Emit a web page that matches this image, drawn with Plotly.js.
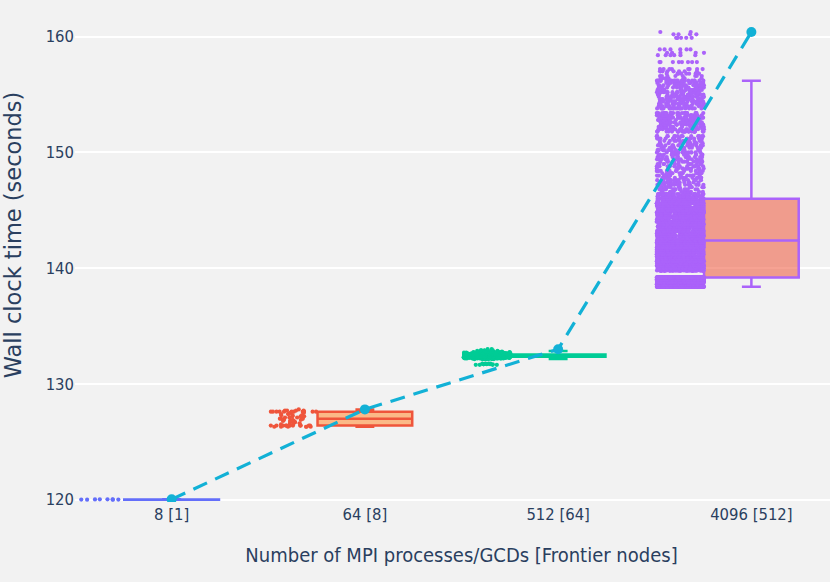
<!DOCTYPE html>
<html>
<head>
<meta charset="utf-8">
<script src="https://cdn.plot.ly/plotly-3.0.1.min.js"></script>
<style>
  body { margin: 0; background: #f2f2f2; overflow: hidden; }
  #chart { margin-top: -32px; }
</style>
</head>
<body>
<div id="chart"></div>
<script>
// categories: MPI processes [Frontier nodes]
var categories = ["8 [1]", "64 [8]", "512 [64]", "4096 [512]"];

// 8 ranks: individual wall clock times
var times8 = [120.02, 120.01, 120.03, 120.0, 120.02, 120.01, 120.0, 120.03];

// 64, 512 and 4096 ranks: distinct times and how many ranks got each
var values64 = [126.3, 126.4, 126.5, 126.6, 126.7, 126.8, 126.9, 127.0, 127.1, 127.2, 127.3, 127.4, 127.5, 127.6, 127.7, 127.8];
var counts64 = [6, 11, 2, 2, 2, 3, 3, 4, 3, 3, 3, 3, 2, 12, 4, 1];

var values512 = [131.65, 131.7, 131.75, 132.15, 132.2, 132.25, 132.3, 132.35, 132.4, 132.45, 132.5, 132.55, 132.6, 132.65, 132.7, 132.75, 132.8, 132.85, 132.9, 133.0];
var counts512 = [4, 6, 4, 10, 20, 30, 40, 50, 60, 60, 60, 50, 40, 30, 20, 12, 6, 4, 4, 2];

var values4096 = [
  138.4, 138.6, 138.8, 139.0, 139.2,
  139.8, 140.0, 140.2, 140.4, 140.6, 140.8, 141.0, 141.2, 141.4, 141.6, 141.8, 142.0, 142.2, 142.4,
  142.6, 142.8, 143.0, 143.2, 143.4, 143.6, 143.8, 144.0, 144.2, 144.4, 144.6, 144.8, 145.0, 145.2, 145.4, 145.6, 145.8,
  146.0, 146.2, 146.4,
  146.6, 146.8, 147.0, 147.2, 147.4, 147.6, 147.8, 148.0, 148.2, 148.4, 148.6, 148.8, 149.0, 149.2, 149.4, 149.6, 149.8, 150.0, 150.2, 150.4, 150.6, 150.8, 151.0, 151.2, 151.4,
  151.8, 152.0, 152.2, 152.4, 152.6, 152.8, 153.0, 153.2, 153.4,
  153.8, 154.0, 154.2, 154.4, 154.6, 154.8, 155.0, 155.2, 155.4, 155.6, 155.8, 156.0, 156.2,
  156.4, 156.6, 156.8, 157.0, 157.2,
  157.8, 158.4, 158.6, 158.9,
  159.9, 160.2, 160.4
];
var counts4096 = [
  200, 220, 220, 220, 240,
  70, 70, 70, 70, 70, 70, 70, 70, 70, 70, 70, 70, 70, 80,
  57, 57, 57, 57, 57, 57, 57, 57, 57, 57, 57, 57, 57, 57, 57, 57, 57,
  60, 44, 30,
  14, 14, 14, 14, 14, 14, 14, 14, 14, 14, 14, 14, 14, 14, 14, 14, 14, 14, 14, 14, 14, 14, 14, 14, 14,
  24, 24, 24, 24, 24, 24, 24, 24, 24,
  20, 20, 20, 20, 20, 20, 20, 20, 20, 20, 20, 20, 20,
  8, 8, 8, 8, 8,
  8, 6, 5, 6,
  6, 4, 2
];

var lineColors = ["#636efa", "#EF553B", "#00cc96", "#ab63fa"];
var fillColors = ["rgba(99,110,250,0.5)", "rgba(255,161,90,0.7)", "rgba(0,204,150,0.5)", "rgba(239,85,59,0.55)"];

function expand(values, counts) {
    let out = [];
    for (let i in values) {
        for (let k = 0; k < counts[i]; k++) {
            out.push(values[i]);
        }
    }
    return out;
}

var samples = [
    times8,
    expand(values64, counts64),
    expand(values512, counts512),
    expand(values4096, counts4096)
];

var traces = [];
for (let c in categories) {
    let y = samples[c];
    traces.push({
        type: "box",
        name: categories[c],
        x: y.map(() => categories[c]),
        y: y,
        boxpoints: "all",
        jitter: 0.5,
        pointpos: -1.5,
        width: 0.49,
        whiskerwidth: 0.2,
        fillcolor: fillColors[c],
        line: { color: lineColors[c], width: 2.5 },
        marker: { color: lineColors[c], size: 4.2 },
        hoverinfo: "skip"
    });
}

// slowest rank per run
traces.push({
    type: "scatter",
    mode: "lines+markers",
    x: categories,
    y: samples.map(s => Math.max(...s)),
    line: { color: "#12b1d6", width: 3.2, dash: "15px,9px" },
    marker: { color: "#12b1d6", size: 10 },
    hoverinfo: "skip"
});

var narrow = "DejaVu Sans Condensed, Liberation Sans Narrow, sans-serif";

// figure is a bit larger than the window: the top and right edge fall outside
Plotly.newPlot("chart", traces, {
    width: 848,
    height: 614,
    paper_bgcolor: "#f2f2f2",
    plot_bgcolor: "#f2f2f2",
    showlegend: false,
    boxmode: "overlay",
    margin: { l: 75, r: 0, t: 0, b: 80 },
    font: { family: narrow, color: "#2a3f5f" },
    xaxis: {
        type: "category",
        range: [-0.5, 3.5],
        showgrid: false,
        zeroline: false,
        tickfont: { family: narrow, size: 16.5, color: "#2a3f5f" },
        title: {
            text: "Number of MPI processes/GCDs [Frontier nodes]",
            standoff: 25,
            font: { family: narrow, size: 20, color: "#2a3f5f" }
        }
    },
    yaxis: {
        range: [119.8, 165.93],
        tickvals: [120, 130, 140, 150, 160],
        showgrid: true,
        gridcolor: "#ffffff",
        gridwidth: 1.5,
        zeroline: false,
        tickfont: { family: narrow, size: 16.5, color: "#2a3f5f" },
        title: {
            text: "Wall clock time (seconds)",
            font: { family: "DejaVu Sans", size: 22.5, color: "#2a3f5f" }
        }
    }
}, {
    displayModeBar: false
});
</script>
</body>
</html>
